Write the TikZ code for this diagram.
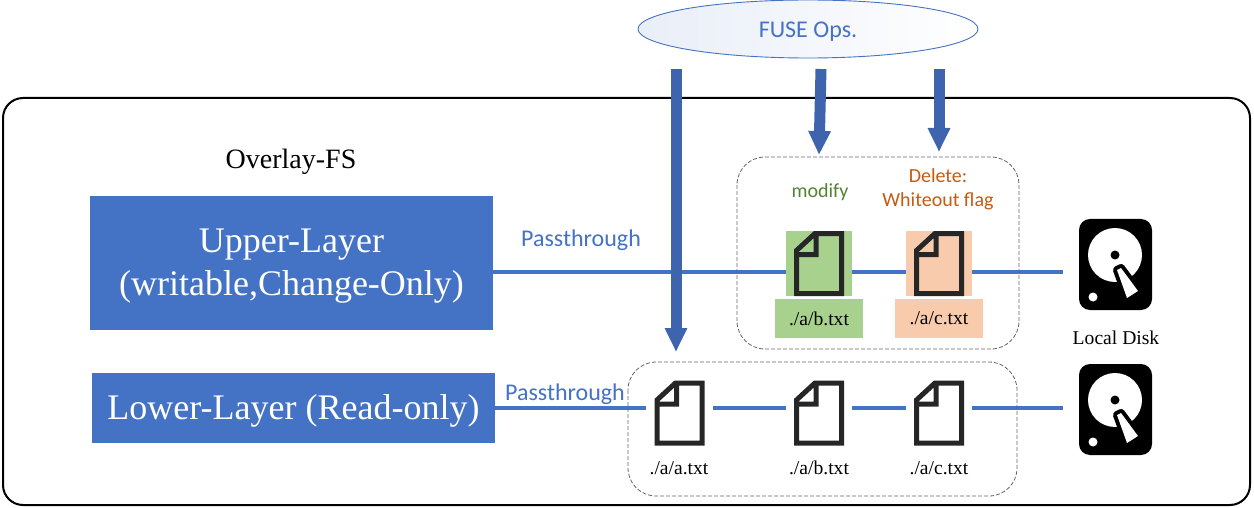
\documentclass[tikz,border=0pt]{standalone}
\usepackage{fontspec}
\setmainfont{Liberation Serif}
\newfontfamily\calfont{Carlito}
\usetikzlibrary{positioning, calc, arrows.meta, shapes.geometric}

\definecolor{layerblue}{HTML}{4472C4}
\definecolor{opsblue}{HTML}{3E64AD}
\definecolor{modgreen}{HTML}{A9D18E}
\definecolor{delorange}{HTML}{F8CBAD}
\definecolor{modtext}{HTML}{548235}
\definecolor{deltext}{HTML}{C55A11}
\definecolor{iconink}{HTML}{262626}

\tikzset{
  layerbox/.style={fill=layerblue, inner sep=0pt},
  layertext/.style={text=white, align=center, inner sep=0pt},
  wire/.style={draw=layerblue, line width=3.5pt},
  opsarrow/.style={draw=opsblue, line width=11pt, -{Triangle[length=24pt,width=21pt]}},
  dashbox/.style={draw=black!60, dash pattern=on 4pt off 2pt, line width=0.8pt, rounded corners=28pt},
  filetext/.style={font=\fontsize{19.6}{22}\selectfont},
  sidetext/.style={font=\calfont\fontsize{20}{24}\selectfont, align=center},
  passtext/.style={font=\calfont\fontsize{24}{28}\selectfont, text=layerblue},
  pics/fileicon/.style={code={
    \draw[iconink, line width=5pt, line join=miter]
      (-22.5,-13) -- (-4,-30) -- (22.5,-30) -- (22.5,30) -- (-22.5,30) -- cycle
      (-3,-30) -- (-3,-9) -- (-22.5,-9);
  }},
  pics/diskicon/.style={code={
    \fill[black, rounded corners=11pt] (-37,-46) rectangle (36,45);
    \fill[white] (-1,-10) circle (27);
    \fill[black] (-1,-10) circle (4.5);
    \fill[white] (-23,32) circle (4.5);
    \draw[black, line width=8pt, line join=round]
      (1,5) -- (5,3) -- (22,26) -- (11,33) -- cycle;
    \fill[white] (1,5) -- (5,3) -- (22,26) -- (11,33) -- cycle;
  }}
}

\begin{document}
\begin{tikzpicture}[x=1pt,y=-1pt, line cap=butt, line join=round]
\useasboundingbox (0,0) rectangle (1254,508);

% outer frame
\draw[black, line width=2pt, rounded corners=20pt] (3,98) rectangle (1250,505);
\node[font=\fontsize{28}{32}\selectfont] (overlay) at (291,162) {Overlay-FS};

% layers
\node[layerbox, minimum width=403pt, minimum height=134pt] (upper) at (291.5,263) {};
\node[layerbox, minimum width=403pt, minimum height=70pt] (lower) at (293.5,408) {};
\node[layertext, font=\fontsize{36}{43}\selectfont] (uppertext) at (291.5,266) {Upper-Layer\\(writable,Change-Only)};
\node[layertext, font=\fontsize{36}{40}\selectfont] (lowertext) at (293.5,411) {Lower-Layer (Read-only)};

\coordinate (row1) at (0,272);
\coordinate (row2) at (0,408);

% file backgrounds
\node[fill=modgreen, minimum width=66pt, minimum height=65pt, inner sep=0pt] (modbg) at (819,263.5) {};
\node[fill=delorange, minimum width=66pt, minimum height=65pt, inner sep=0pt] (delbg) at (939,263.5) {};
\node[fill=modgreen, minimum width=88pt, minimum height=39pt, inner sep=0pt, filetext] (modname) at (819,318.5) {./a/b.txt};
\node[fill=delorange, minimum width=88pt, minimum height=39pt, inner sep=0pt, filetext] (delname) at (939,318.5) {./a/c.txt};

% lower row of files and disks
\node[minimum width=66pt, minimum height=68pt, inner sep=0pt] (filea) at (679.5,413) {};
\node[minimum width=66pt, minimum height=68pt, inner sep=0pt] (fileb) at (819,413) {};
\node[minimum width=66pt, minimum height=68pt, inner sep=0pt] (filec) at (939,413) {};
\node[minimum width=73pt, minimum height=91pt, inner sep=0pt] (disktop) at (1116,265) {};
\node[minimum width=73pt, minimum height=91pt, inner sep=0pt] (diskbot) at (1116,410) {};

% wires
\draw[wire] (upper.east |- row1) -- (modbg.west |- row1);
\draw[wire] (modbg.east |- row1) -- (delbg.west |- row1);
\draw[wire, shorten >=16pt] (delbg.east |- row1) -- (disktop.west |- row1);
\draw[wire] (lower.east |- row2) -- (filea.west |- row2);
\draw[wire] (filea.east |- row2) -- (fileb.west |- row2);
\draw[wire] (fileb.east |- row2) -- (filec.west |- row2);
\draw[wire, shorten >=16pt] (filec.east |- row2) -- (diskbot.west |- row2);

% icons
\pic at (modbg) {fileicon};
\pic at (delbg) {fileicon};
\pic at (filea) {fileicon};
\pic at (fileb) {fileicon};
\pic at (filec) {fileicon};
\pic at (disktop) {diskicon};
\pic at (diskbot) {diskicon};

% dashed groups
\draw[dashbox] (737,157) rectangle (1019,349);
\draw[dashbox] (628,362) rectangle (1017,496);

% texts
\node[passtext] (passup) at (581,240) {Passthrough};
\node[passtext] (passlow) at (565,394) {Passthrough};
\node[sidetext, text=modtext] (modify) at (820,192) {modify};
\node[sidetext, text=deltext] (delete) at (938,189) {Delete:\\Whiteout flag};
\node[filetext] (namea) at (679,468) {./a/a.txt};
\node[filetext] (nameb) at (819,468) {./a/b.txt};
\node[filetext] (namec) at (939,468) {./a/c.txt};
\node[filetext] (local) at (1116,338) {Local Disk};

% FUSE ops
\node[ellipse, draw=layerblue, line width=0.9pt, left color=layerblue!12, right color=white,
  minimum width=340pt, minimum height=58pt, inner sep=0pt] (fuse) at (808,29) {};
\node[text=layerblue, font=\calfont\fontsize{24}{28}\selectfont] (fusetext) at (808,32) {FUSE Ops.};

\coordinate (opsa) at (676,69);
\coordinate (opsb) at (821,69);
\coordinate (opsc) at (939,69);
\coordinate (enda) at (676,352);
\coordinate (endb) at (819,155);
\coordinate (endc) at (939,152);
\draw[opsarrow] (opsa) -- (enda);
\draw[opsarrow] (opsb) -- (endb);
\draw[opsarrow] (opsc) -- (endc);

\end{tikzpicture}
\end{document}
